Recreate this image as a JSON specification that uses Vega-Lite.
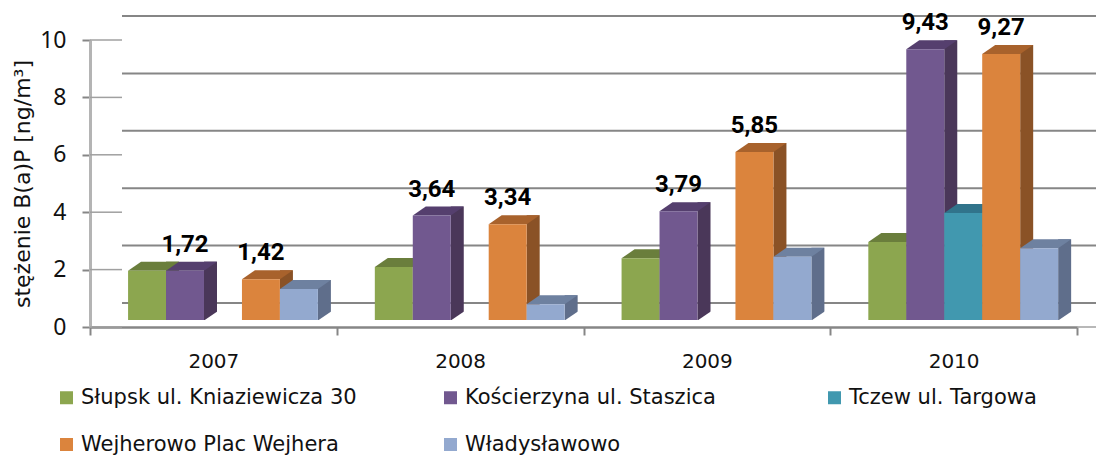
{"$schema":"https://vega.github.io/schema/vega-lite/v6.json","width":987,"height":287,"autosize":{"type":"none"},"padding":{"left":90,"top":40,"right":19,"bottom":128},"background":"white","config":{"view":{"stroke":null},"font":"DejaVu Sans"},"datasets":{"bars":[{"year":"2007","station":"Słupsk ul. Kniaziewicza 30","value":1.72},{"year":"2007","station":"Kościerzyna ul. Staszica","value":1.72,"label":"1,72"},{"year":"2007","station":"Wejherowo Plac Wejhera","value":1.42,"label":"1,42"},{"year":"2007","station":"Władysławowo","value":1.08},{"year":"2008","station":"Słupsk ul. Kniaziewicza 30","value":1.85},{"year":"2008","station":"Kościerzyna ul. Staszica","value":3.64,"label":"3,64"},{"year":"2008","station":"Wejherowo Plac Wejhera","value":3.34,"label":"3,34"},{"year":"2008","station":"Władysławowo","value":0.55},{"year":"2009","station":"Słupsk ul. Kniaziewicza 30","value":2.15},{"year":"2009","station":"Kościerzyna ul. Staszica","value":3.79,"label":"3,79"},{"year":"2009","station":"Wejherowo Plac Wejhera","value":5.85,"label":"5,85"},{"year":"2009","station":"Władysławowo","value":2.2},{"year":"2010","station":"Słupsk ul. Kniaziewicza 30","value":2.72},{"year":"2010","station":"Kościerzyna ul. Staszica","value":9.43,"label":"9,43"},{"year":"2010","station":"Tczew ul. Targowa","value":3.73},{"year":"2010","station":"Wejherowo Plac Wejhera","value":9.27,"label":"9,27"},{"year":"2010","station":"Władysławowo","value":2.5}],"levels":[{"v":0},{"v":2},{"v":4},{"v":6},{"v":8},{"v":10}],"floor":[{"v":0}]},"layer":[{"data":{"name":"levels"},"mark":{"type":"rule","x":32,"x2":1019,"yOffset":-24,"y2Offset":-24,"color":"#868686","strokeWidth":2},"encoding":{"y":{"field":"v","type":"quantitative","scale":{"domain":[0,10]},"axis":{"values":[0,2,4,6,8,10],"title":"stężenie B(a)P [ng/m³]","titleFont":"DejaVu Sans","titleFontSize":22,"titleFontWeight":"normal","titleColor":"#111","titlePadding":5,"labelFont":"Noto Sans","labelFontSize":23,"labelColor":"#111","labelPadding":16,"tickColor":"#868686","tickWidth":2,"tickSize":8,"domainColor":"#B4B4B4","domainWidth":3,"grid":false}}}},{"data":{"name":"levels"},"mark":{"type":"rule","x":0,"x2":32,"y2Offset":-24,"color":"#A0A0A0","strokeWidth":1.5},"encoding":{"y":{"field":"v","type":"quantitative"}}},{"data":{"name":"floor"},"mark":{"type":"rule","x":987,"x2":1019,"y2Offset":-24,"color":"#A0A0A0","strokeWidth":1.5},"encoding":{"y":{"field":"v","type":"quantitative"}}},{"data":{"name":"bars"},"resolve":{"scale":{"color":"independent","xOffset":"independent"}},"encoding":{"x":{"field":"year","type":"nominal","scale":{"paddingInner":0,"paddingOuter":0},"axis":{"title":null,"labelAngle":0,"labelFont":"DejaVu Sans","labelFontSize":20,"labelColor":"#111","labelPadding":16,"tickBand":"extent","tickColor":"#868686","tickWidth":2,"tickSize":8,"domainColor":"#868686","domainWidth":2.5}}},"layer":[{"mark":{"type":"bar","width":13,"yOffset":-16,"y2Offset":-7},"encoding":{"xOffset":{"field":"station","type":"nominal","scale":{"type":"band","domain":["Słupsk ul. Kniaziewicza 30","Kościerzyna ul. Staszica","Tczew ul. Targowa","Wejherowo Plac Wejhera","Władysławowo"],"paddingInner":0,"paddingOuter":0.75,"range":[35.1,281.85]}},"y":{"field":"value","type":"quantitative","stack":null},"y2":{"datum":0},"color":{"field":"station","type":"nominal","legend":null,"scale":{"domain":["Słupsk ul. Kniaziewicza 30","Kościerzyna ul. Staszica","Tczew ul. Targowa","Wejherowo Plac Wejhera","Władysławowo"],"range":["#66793A","#4A3759","#2E7186","#8A5226","#5F6E8B"]}}}},{"mark":{"type":"point","filled":true,"opacity":1,"size":4,"strokeWidth":0,"yOffset":-7,"color":"white","shape":"M19,0.5L33,0.5L33,-9Z"},"encoding":{"xOffset":{"field":"station","type":"nominal","scale":{"type":"band","domain":["Słupsk ul. Kniaziewicza 30","Kościerzyna ul. Staszica","Tczew ul. Targowa","Wejherowo Plac Wejhera","Władysławowo"],"paddingInner":0,"paddingOuter":0.75,"range":[9.6,256.35]}},"y":{"datum":0}}},{"mark":{"type":"point","filled":true,"opacity":1,"size":4,"strokeWidth":0,"yOffset":-7,"shape":"M-19,0L19,0L32,-9L-6,-9Z"},"encoding":{"xOffset":{"field":"station","type":"nominal","scale":{"type":"band","domain":["Słupsk ul. Kniaziewicza 30","Kościerzyna ul. Staszica","Tczew ul. Targowa","Wejherowo Plac Wejhera","Władysławowo"],"paddingInner":0,"paddingOuter":0.75,"range":[9.6,256.35]}},"y":{"field":"value","type":"quantitative"},"color":{"field":"station","type":"nominal","legend":null,"scale":{"domain":["Słupsk ul. Kniaziewicza 30","Kościerzyna ul. Staszica","Tczew ul. Targowa","Wejherowo Plac Wejhera","Władysławowo"],"range":["#6A7E3C","#553F6E","#31748B","#A8622C","#6E81A0"]}}}},{"mark":{"type":"bar","yOffset":-7,"y2Offset":-7},"encoding":{"xOffset":{"field":"station","type":"nominal","scale":{"type":"band","domain":["Słupsk ul. Kniaziewicza 30","Kościerzyna ul. Staszica","Tczew ul. Targowa","Wejherowo Plac Wejhera","Władysławowo"],"paddingInner":0,"paddingOuter":0.75,"range":[9.6,256.35]}},"y":{"field":"value","type":"quantitative","stack":null},"y2":{"datum":0},"color":{"field":"station","type":"nominal","scale":{"domain":["Słupsk ul. Kniaziewicza 30","Kościerzyna ul. Staszica","Tczew ul. Targowa","Wejherowo Plac Wejhera","Władysławowo"],"range":["#8CA64F","#71588F","#4198AF","#DB843D","#93A9CF"]},"legend":{"title":null,"orient":"none","legendX":-34,"legendY":347,"columns":3,"columnPadding":83,"rowPadding":25,"gridAlign":"all","labelFont":"DejaVu Sans","labelFontSize":21,"labelColor":"#111","labelOffset":4,"symbolType":"square","symbolSize":169,"symbolStrokeWidth":0,"labelLimit":400,"values":["Słupsk ul. Kniaziewicza 30","Wejherowo Plac Wejhera","Kościerzyna ul. Staszica","Władysławowo","Tczew ul. Targowa"]}}}},{"transform":[{"filter":"isValid(datum.label)"}],"mark":{"type":"text","dy":-33,"font":"Roboto","fontSize":24,"fontWeight":"bold","color":"black","baseline":"middle"},"encoding":{"xOffset":{"field":"station","type":"nominal","scale":{"type":"band","domain":["Słupsk ul. Kniaziewicza 30","Kościerzyna ul. Staszica","Tczew ul. Targowa","Wejherowo Plac Wejhera","Władysławowo"],"paddingInner":0,"paddingOuter":0.75,"range":[9.6,256.35]}},"y":{"field":"value","type":"quantitative"},"text":{"field":"label","type":"nominal"}}}]}]}
